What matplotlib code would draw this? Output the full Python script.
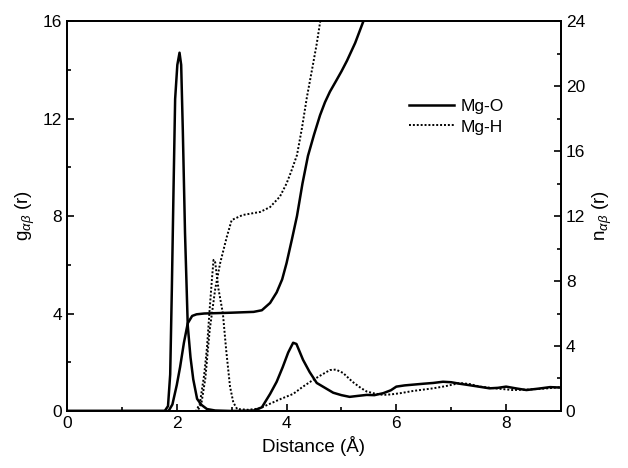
import numpy as np
import matplotlib.pyplot as plt

plt.rcParams['font.family'] = ['Liberation Sans', 'DejaVu Sans']
plt.rcParams['mathtext.fontset'] = 'custom'
plt.rcParams['mathtext.it'] = 'Liberation Sans:italic'
plt.rcParams['mathtext.rm'] = 'Liberation Sans'

# Mg-O radial distribution g(r)
r_go = [0, 1.78, 1.84, 1.88, 1.91, 1.94, 1.97, 2.01, 2.05, 2.08, 2.11, 2.15, 2.2, 2.25,
        2.3, 2.37, 2.45, 2.55, 2.7, 3.0, 3.4, 3.55, 3.7, 3.82, 3.93, 4.03, 4.12, 4.18,
        4.3, 4.42, 4.55, 4.7, 4.85, 5.0, 5.15, 5.3, 5.46, 5.6, 5.76, 5.9, 6.0, 6.15,
        6.3, 6.5, 6.67, 6.85, 7.0, 7.15, 7.3, 7.5, 7.7, 7.85, 8.0, 8.2, 8.37, 8.6, 8.8, 9.0]
g_go = [0, 0, 0.2, 1.5, 5.0, 9.0, 12.8, 14.2, 14.7, 14.2, 11.5, 7.3, 3.5, 2.2,
        1.3, 0.5, 0.25, 0.08, 0.02, 0, 0.02, 0.15, 0.7, 1.2, 1.8, 2.4, 2.8, 2.75,
        2.1, 1.6, 1.15, 0.95, 0.75, 0.65, 0.58, 0.62, 0.66, 0.65, 0.73, 0.85, 1.0, 1.05,
        1.08, 1.12, 1.15, 1.2, 1.18, 1.12, 1.07, 1.0, 0.93, 0.95, 1.0, 0.92, 0.86, 0.92, 0.98, 0.96]

# Mg-O coordination number n(r)
r_no = [0, 1.85, 1.92, 2.0, 2.06, 2.13, 2.2, 2.28, 2.36, 2.5, 3.0, 3.4, 3.55, 3.7, 3.82,
        3.92, 4.0, 4.1, 4.19, 4.29, 4.39, 4.5, 4.61, 4.7, 4.79, 4.9, 5.0, 5.1, 5.25, 5.39, 5.5]
n_no = [0, 0, 0.4, 1.6, 2.7, 4.2, 5.4, 5.85, 5.95, 6.0, 6.05, 6.1, 6.2, 6.65, 7.3,
        8.1, 9.1, 10.6, 12.0, 14.0, 15.7, 17.0, 18.2, 19.0, 19.65, 20.3, 20.9, 21.55, 22.65, 23.9, 24.8]

# Mg-H radial distribution g(r)
r_gh = [0, 2.35, 2.42, 2.5, 2.55, 2.6, 2.64, 2.67, 2.7, 2.76, 2.84, 2.9, 2.97, 3.03, 3.1,
        3.3, 3.5, 3.7, 3.9, 4.12, 4.3, 4.48, 4.65, 4.79, 4.9, 5.03, 5.2, 5.35, 5.46, 5.6,
        5.76, 5.9, 6.07, 6.3, 6.5, 6.67, 6.9, 7.16, 7.35, 7.52, 7.8, 8.12, 8.4, 8.7, 9.0]
g_gh = [0, 0, 0.3, 1.5, 2.6, 4.2, 5.4, 6.2, 6.1, 5.0, 4.0, 2.5, 1.0, 0.35, 0.08,
        0.05, 0.1, 0.3, 0.5, 0.7, 1.0, 1.27, 1.5, 1.68, 1.7, 1.56, 1.2, 0.95, 0.8, 0.72,
        0.66, 0.68, 0.73, 0.82, 0.88, 0.93, 1.02, 1.15, 1.1, 1.0, 0.93, 0.86, 0.88, 0.92, 0.98]

# Mg-H coordination number n(r)
r_nh = [0, 2.38, 2.45, 2.52, 2.6, 2.7, 2.79, 2.91, 3.0, 3.2, 3.35, 3.52, 3.7, 3.88,
        4.0, 4.08, 4.19, 4.28, 4.37, 4.48, 4.55, 4.61, 4.7]
n_nh = [0, 0, 0.5, 2.0, 5.0, 7.5, 9.1, 10.7, 11.75, 12.06, 12.15, 12.25, 12.55, 13.2,
        14.0, 14.7, 15.75, 17.4, 19.3, 21.3, 22.6, 23.9, 25.5]

fig = plt.figure(figsize=(6.28, 4.68), dpi=100)
ax = fig.add_axes([0.1067, 0.1218, 0.7866, 0.8333])
ax2 = ax.twinx()

ax.plot(r_go, g_go, color='black', lw=1.8, label='Mg-O')
ax.plot(r_gh, g_gh, color='black', lw=1.4, ls=(0, (1, 1)), label='Mg-H')
ax2.plot(r_no, n_no, color='black', lw=1.8)
ax2.plot(r_nh, n_nh, color='black', lw=1.4, ls=(0, (1, 1)))

ax.set_xlim(0, 9)
ax.set_ylim(0, 16)
ax2.set_ylim(0, 24)
ax.set_xticks([0, 2, 4, 6, 8])
ax.set_xticks([1, 3, 5, 7], minor=True)
ax.set_yticks([0, 4, 8, 12, 16])
ax.set_yticks([2, 6, 10, 14], minor=True)
ax2.set_yticks([0, 4, 8, 12, 16, 20, 24])
ax2.set_yticks([2, 6, 10, 14, 18, 22], minor=True)

ax.tick_params(which='both', direction='in', top=False, right=False, labelsize=12.5, width=1.2)
ax.tick_params(which='major', length=5)
ax.tick_params(which='minor', length=3)
ax2.tick_params(which='both', direction='in', labelsize=12.5, width=1.2)
ax2.tick_params(which='major', length=5)
ax2.tick_params(which='minor', length=3)

for sp in ax.spines.values():
    sp.set_linewidth(1.3)
for sp in ax2.spines.values():
    sp.set_linewidth(1.3)

ax.set_xlabel('Distance (Å)', fontsize=13.5)
ax.set_ylabel(r'g$_{\alpha\beta}$ (r)', fontsize=13.5)
ax2.set_ylabel(r'n$_{\alpha\beta}$ (r)', fontsize=13.5)

ax.legend(loc='upper left', bbox_to_anchor=(0.66, 0.84), frameon=False, fontsize=12.5,
          handlelength=2.6, handletextpad=0.4, labelspacing=0.3)

fig.savefig('out.png', dpi=100)
